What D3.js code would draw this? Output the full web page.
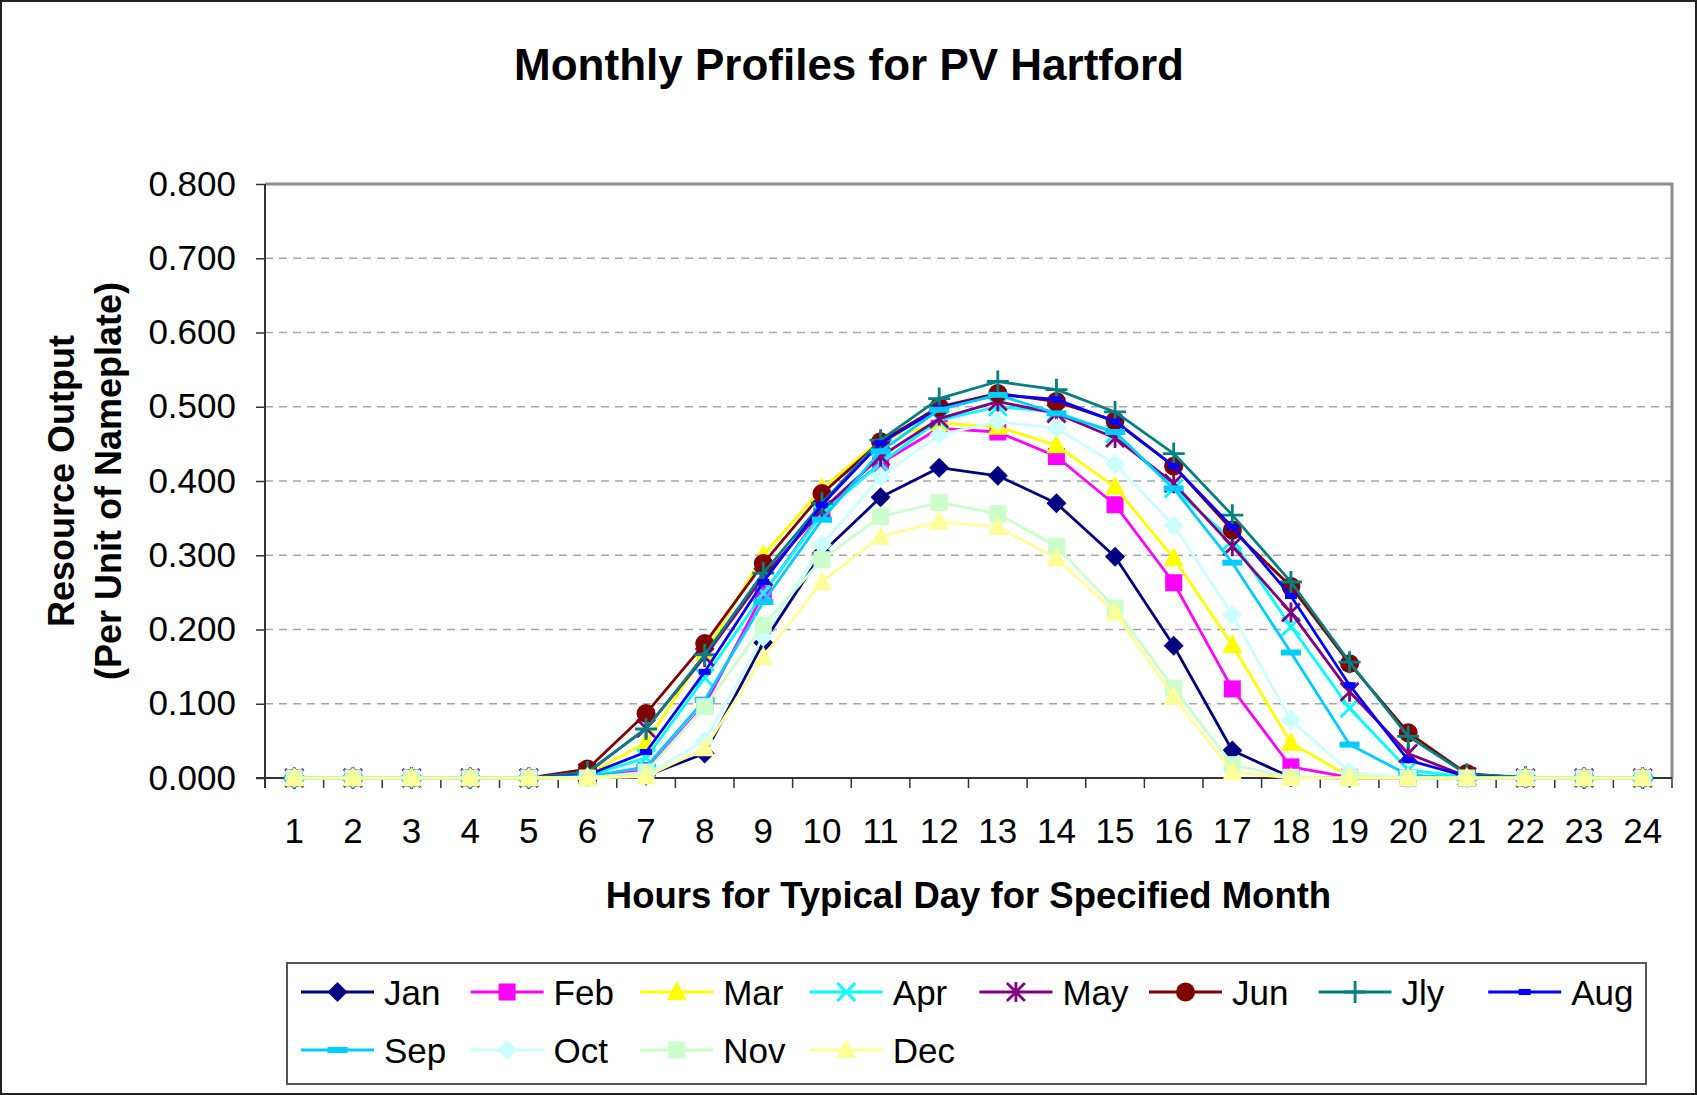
<!DOCTYPE html>
<html>
<head>
<meta charset="utf-8">
<script src="https://cdn.jsdelivr.net/npm/d3@7"></script>
<style>
  html, body { margin: 0; padding: 0; background: #fff; }
  svg { display: block; }
  text { font-family: "Liberation Sans", Arial, sans-serif; }
</style>
</head>
<body>
<svg id="chart" width="1697" height="1095"></svg>
<script>
// ---------- data ----------
const hours = [1,2,3,4,5,6,7,8,9,10,11,12,13,14,15,16,17,18,19,20,21,22,23,24];
const yTicks = [0,0.1,0.2,0.3,0.4,0.5,0.6,0.7,0.8];
const months = ["Jan","Feb","Mar","Apr","May","Jun","Jly","Aug","Sep","Oct","Nov","Dec"];

const jan = [0,0,0,0,0,0.001,0.003,0.033,0.182,0.303,0.378,0.418,0.407,0.370,0.298,0.178,0.037,0.001,0,0,0,0,0,0];
const feb = [0,0,0,0,0,0.002,0.010,0.098,0.248,0.359,0.424,0.471,0.466,0.433,0.368,0.263,0.120,0.015,0.001,0,0,0,0,0];
const mar = [0,0,0,0,0,0.004,0.048,0.168,0.300,0.390,0.455,0.478,0.473,0.448,0.392,0.296,0.179,0.047,0.002,0,0,0,0,0];
const apr = [0,0,0,0,0,0.003,0.027,0.135,0.249,0.356,0.424,0.482,0.500,0.493,0.464,0.390,0.320,0.204,0.094,0.011,0.001,0,0,0];
const may = [0,0,0,0,0,0.007,0.067,0.163,0.271,0.361,0.433,0.484,0.507,0.491,0.458,0.397,0.312,0.223,0.116,0.033,0.002,0,0,0];
const jun = [0,0,0,0,0,0.012,0.087,0.181,0.289,0.383,0.453,0.500,0.518,0.507,0.481,0.420,0.334,0.258,0.154,0.061,0.006,0,0,0];
const jly = [0,0,0,0,0,0.008,0.066,0.166,0.276,0.370,0.455,0.511,0.534,0.523,0.493,0.437,0.354,0.264,0.156,0.056,0.005,0.001,0,0];
const aug = [0,0,0,0,0,0.004,0.035,0.143,0.264,0.368,0.451,0.498,0.516,0.510,0.480,0.420,0.338,0.245,0.125,0.024,0.002,0,0,0];
const sep = [0,0,0,0,0,0.002,0.015,0.105,0.237,0.348,0.440,0.496,0.516,0.491,0.466,0.390,0.290,0.169,0.045,0.004,0,0,0,0];
const oct = [0,0,0,0,0,0.001,0.005,0.050,0.190,0.314,0.406,0.462,0.480,0.471,0.423,0.340,0.220,0.078,0.008,0,0,0,0,0];
const nov = [0,0,0,0,0,0,0.008,0.096,0.206,0.294,0.352,0.371,0.356,0.312,0.229,0.121,0.018,0.001,0,0,0,0,0,0];
const dec = [0,0,0,0,0,0,0.002,0.040,0.163,0.264,0.325,0.345,0.338,0.296,0.223,0.109,0.008,0,0,0,0,0,0,0];

const seriesValues = [jan,feb,mar,apr,may,jun,jly,aug,sep,oct,nov,dec];
const colors = ["#000080","#FF00FF","#FFFF00","#00FFFF","#800080","#800000","#008080","#0000FF","#00CCFF","#CCFFFF","#CCFFCC","#FFFF99"];
const markers = ["diamond","square","triangle","x","asterisk","circle","plus","dash","longdash","diamond","square","triangle"];

// ---------- layout ----------
const W = 1697, H = 1095;
const plot = {left: 265, right: 1672, top: 184, bottom: 778};
const svg = d3.select("#chart");

svg.append("rect").attr("x",1).attr("y",1).attr("width",W-2).attr("height",H-2)
  .attr("fill","#fff").attr("stroke","#222").attr("stroke-width",2);

const x = d3.scaleBand().domain(hours).range([plot.left, plot.right]).paddingInner(0).paddingOuter(0);
const y = d3.scaleLinear().domain([0, 0.8]).range([plot.bottom, plot.top]);
const cx = h => x(h) + x.bandwidth()/2;

// gridlines
svg.append("g").selectAll("line").data(yTicks.filter(d => d > 0 && d < 0.8)).join("line")
  .attr("x1", plot.left).attr("x2", plot.right)
  .attr("y1", d => y(d)).attr("y2", d => y(d))
  .attr("stroke", "#a6a6a6").attr("stroke-width", 1.6).attr("stroke-dasharray", "8,6");

// plot frame (top & right, gray)
svg.append("path")
  .attr("d", `M${plot.left},${plot.top}H${plot.right}V${plot.bottom}`)
  .attr("fill","none").attr("stroke","#8c8c8c").attr("stroke-width",3);

// y axis
const yAxis = svg.append("g").attr("transform", `translate(${plot.left},0)`)
  .call(d3.axisLeft(y).tickValues(yTicks).tickFormat(d3.format(".3f")).tickSize(9).tickPadding(20).tickSizeOuter(0));
yAxis.select(".domain").attr("stroke","#333").attr("stroke-width",2)
  .attr("d", `M0,${plot.top}V${plot.bottom + 10}`);
yAxis.selectAll(".tick line").attr("stroke","#333").attr("stroke-width",1.5);
yAxis.selectAll(".tick text").attr("font-size", 35).attr("fill","#000")
  .attr("font-family", '"Liberation Sans", Arial, sans-serif');

// x axis
const xAxis = svg.append("g").attr("transform", `translate(0,${plot.bottom})`)
  .call(d3.axisBottom(x).tickSize(0).tickPadding(40).tickSizeOuter(0));
xAxis.select(".domain").attr("stroke","#333").attr("stroke-width",2)
  .attr("d", `M${plot.left - 9},0H${plot.right}`);
xAxis.selectAll(".tick text").attr("font-size", 35).attr("fill","#000")
  .attr("font-family", '"Liberation Sans", Arial, sans-serif');
// boundary ticks
const bounds = hours.map(h => x(h)).concat([x(hours[hours.length-1]) + x.bandwidth()]);
xAxis.append("g").selectAll("line").data(bounds).join("line")
  .attr("x1", d => d).attr("x2", d => d).attr("y1", 0).attr("y2", 10)
  .attr("stroke","#333").attr("stroke-width",1.5);

// ---------- markers ----------
function drawMarker(g, type, color, mx, my) {
  const sw = 2.8;
  switch (type) {
    case "diamond":
      g.append("path").attr("d", `M${mx},${my-10}L${mx+10},${my}L${mx},${my+10}L${mx-10},${my}Z`).attr("fill", color);
      break;
    case "square":
      g.append("rect").attr("x", mx-8.5).attr("y", my-8.5).attr("width", 17).attr("height", 17).attr("fill", color);
      break;
    case "triangle":
      g.append("path").attr("d", `M${mx},${my-11}L${mx+10},${my+8}L${mx-10},${my+8}Z`).attr("fill", color);
      break;
    case "circle":
      g.append("circle").attr("cx", mx).attr("cy", my).attr("r", 9.5).attr("fill", color);
      break;
    case "x":
      g.append("path").attr("d", `M${mx-9},${my-9}L${mx+9},${my+9}M${mx-9},${my+9}L${mx+9},${my-9}`)
        .attr("stroke", color).attr("stroke-width", sw).attr("fill","none");
      break;
    case "asterisk":
      g.append("path").attr("d", `M${mx-9},${my-9}L${mx+9},${my+9}M${mx-9},${my+9}L${mx+9},${my-9}M${mx},${my-10}L${mx},${my+10}`)
        .attr("stroke", color).attr("stroke-width", sw).attr("fill","none");
      break;
    case "plus":
      g.append("path").attr("d", `M${mx-11},${my}L${mx+11},${my}M${mx},${my-11}L${mx},${my+11}`)
        .attr("stroke", color).attr("stroke-width", sw).attr("fill","none");
      break;
    case "dash":
      g.append("rect").attr("x", mx-6).attr("y", my-3).attr("width", 12).attr("height", 6).attr("fill", color);
      break;
    case "longdash":
      g.append("rect").attr("x", mx-10).attr("y", my-3).attr("width", 20).attr("height", 6).attr("fill", color);
      break;
  }
}

// ---------- series ----------
const line = d3.line().x((d,i) => cx(hours[i])).y(d => y(d));
const seriesG = svg.append("g");
seriesValues.forEach((vals, si) => {
  const g = seriesG.append("g");
  g.append("path").datum(vals).attr("d", line)
    .attr("fill","none").attr("stroke", colors[si]).attr("stroke-width", 2.8).attr("stroke-linejoin","round");
  vals.forEach((v, i) => drawMarker(g, markers[si], colors[si], cx(hours[i]), y(v)));
});

// ---------- titles ----------
svg.append("text").attr("x", 849).attr("y", 80).attr("text-anchor","middle")
  .attr("font-size", 44).attr("font-weight","bold").text("Monthly Profiles for PV Hartford");

svg.append("text").attr("x", (plot.left + plot.right)/2).attr("y", 908).attr("text-anchor","middle")
  .attr("font-size", 36.5).attr("font-weight","bold").text("Hours for Typical Day for Specified Month");

const yt = svg.append("text").attr("transform", `translate(0,${(plot.top+plot.bottom)/2}) rotate(-90)`)
  .attr("text-anchor","middle").attr("font-size", 36).attr("font-weight","bold");
yt.append("tspan").attr("x", 0).attr("y", 74).text("Resource Output");
yt.append("tspan").attr("x", 0).attr("y", 121).text("(Per Unit of Nameplate)");

// ---------- legend ----------
const leg = svg.append("g");
leg.append("rect").attr("x", 287).attr("y", 963).attr("width", 1359).attr("height", 121)
  .attr("fill","#fff").attr("stroke","#555").attr("stroke-width",2);
months.forEach((m, i) => {
  const row = i < 8 ? 0 : 1;
  const col = i < 8 ? i : i - 8;
  const lx = 301 + col * 169.6;
  const ly = row === 0 ? 992 : 1050;
  const g = leg.append("g");
  g.append("line").attr("x1", lx).attr("x2", lx + 73).attr("y1", ly).attr("y2", ly)
    .attr("stroke", colors[i]).attr("stroke-width", 2.8);
  drawMarker(g, markers[i], colors[i], lx + 36.5, ly);
  g.append("text").attr("x", lx + 83).attr("y", ly + 12.5).attr("font-size", 35).text(m);
});
</script>
</body>
</html>
